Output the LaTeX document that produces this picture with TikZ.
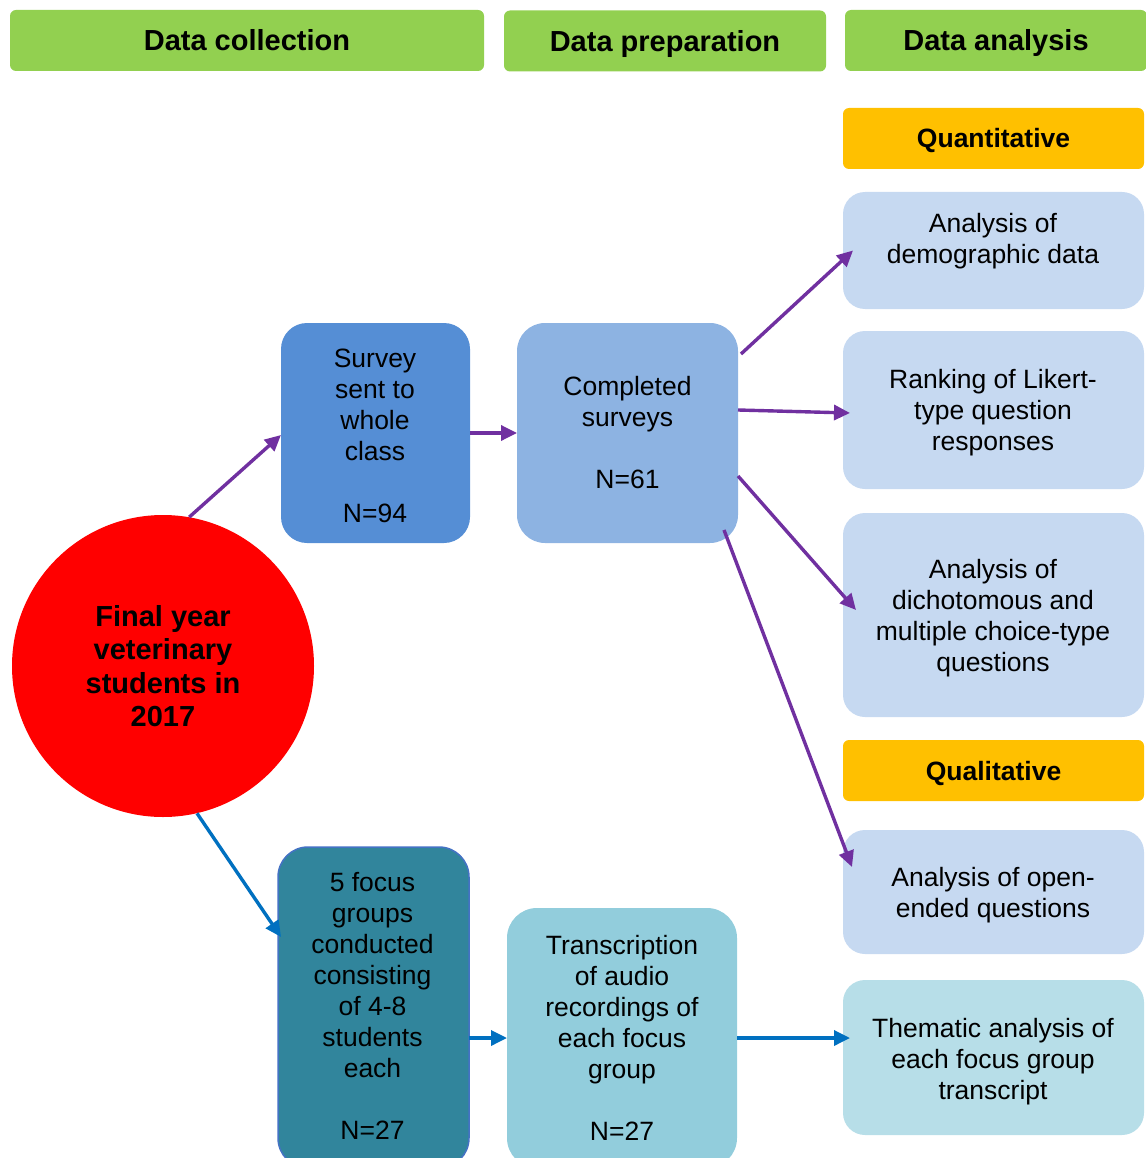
\documentclass[tikz,border=0pt]{standalone}
\usepackage{fontspec}
\setmainfont{Liberation Sans}
\usetikzlibrary{arrows.meta,calc}

\definecolor{hdrgreen}{HTML}{92D050}
\definecolor{catorange}{HTML}{FFC000}
\definecolor{surveyblue}{HTML}{558ED5}
\definecolor{doneblue}{HTML}{8DB3E2}
\definecolor{paleblue}{HTML}{C6D9F1}
\definecolor{focusteal}{HTML}{31859C}
\definecolor{focusedge}{HTML}{4472C4}
\definecolor{transteal}{HTML}{92CDDC}
\definecolor{paleteal}{HTML}{B7DEE8}
\definecolor{arrowpurple}{HTML}{7030A0}
\definecolor{arrowblue}{HTML}{0070C0}

\tikzset{
  bodytext/.style={font=\fontsize{26.5}{31}\selectfont, align=center, text=black},
  box/.style={bodytext, inner sep=0pt, outer sep=0pt, rounded corners=22pt},
  header/.style={box, fill=hdrgreen, rounded corners=6pt, minimum height=61pt,
                 text height=20.8pt, text depth=0pt,
                 font=\fontsize{29}{33}\selectfont\bfseries},
  category/.style={box, fill=catorange, rounded corners=6pt, minimum width=301pt,
                   minimum height=61pt, text height=19pt, text depth=0pt,
                   font=\fontsize{26.5}{31}\selectfont\bfseries},
  resultbox/.style={box, fill=paleblue, minimum width=301pt},
  flowarrow/.style={line width=3.4pt, -{Triangle[length=16pt,width=15pt]}},
  purplearrow/.style={flowarrow, draw=arrowpurple},
  bluearrow/.style={flowarrow, draw=arrowblue}
}

\begin{document}
\begin{tikzpicture}[x=1pt,y=-1pt]
\useasboundingbox (0,0) rectangle (1145,1158);

% column headers
\node[header, minimum width=474pt] (hcol) at (247,40.5) {Data collection};
\node[header, minimum width=322pt] (hprep) at (665,41) {Data preparation};
\node[header, minimum width=302pt] (hana) at (996,40.5) {Data analysis};

% analysis categories
\node[category] (quant) at (993.5,138.5) {Quantitative};
\node[category] (qual) at (993.5,770.5) {Qualitative};

% quantitative analyses
\node[resultbox, minimum height=117pt] (demo) at (993.5,250.5) {};
\node[bodytext] (demotext) at (993,241.5) {Analysis of\\demographic data};
\node[resultbox, minimum height=158pt] (rank) at (993.5,410) {};
\node[bodytext] (ranktext) at (993,413) {Ranking of Likert-\\type question\\responses};
\node[resultbox, minimum height=204pt] (dich) at (993.5,615) {};
\node[bodytext] (dichtext) at (993,618) {Analysis of\\dichotomous and\\multiple choice-type\\questions};

% qualitative analyses
\node[resultbox, minimum height=124pt] (open) at (993.5,892) {};
\node[bodytext] (opentext) at (993,895) {Analysis of open-\\ended questions};
\node[box, fill=paleteal, minimum width=301pt, minimum height=155pt] (them) at (993.5,1057.5) {};
\node[bodytext] (themtext) at (993,1061.5) {Thematic analysis of\\each focus group\\transcript};

% starting population
\node[circle, fill=red, minimum size=302pt, inner sep=0pt,
      font=\fontsize{29}{33.5}\selectfont\bfseries, align=center] (pop) at (163,666)
  {Final year\\veterinary\\students in\\2017};

% survey branch
\node[box, fill=surveyblue, minimum width=189pt, minimum height=220pt, rounded corners=26pt] (survey) at (375.5,433) {};
\node[bodytext] (surveytext) at (375,436) {Survey\\sent to\\whole\\class\\[31pt]N=94};
\node[box, fill=doneblue, minimum width=221pt, minimum height=220pt, rounded corners=28pt] (comp) at (627.5,433)
  {Completed\\surveys\\[31pt]N=61};

% focus group branch
\node[box, fill=focusteal, draw=focusedge, line width=1.5pt, minimum width=191pt,
      minimum height=321pt, rounded corners=30pt] (focus) at (373.5,1007.5) {};
\node[bodytext] (focustext) at (372.5,1006)
  {5 focus\\groups\\conducted\\consisting\\of 4-8\\students\\each\\[31pt]N=27};
\node[box, fill=transteal, minimum width=230pt, minimum height=260pt, rounded corners=30pt] (trans) at (622,1038)
  {Transcription\\of audio\\recordings of\\each focus\\group\\[31pt]N=27};

% connectors
\draw[purplearrow] (pop.80.8) -- ($(survey.west)+(0,2)$);
\draw[purplearrow] (survey.east) -- (comp.west);
\draw[purplearrow] ($(comp.east)+(3,-79)$) -- ($(demo.west)+(10,0)$);
\draw[purplearrow] ($(comp.east)+(0,-23)$) -- ($(rank.west)+(7,3)$);
\draw[purplearrow] ($(comp.east)+(0,43)$) -- ($(dich.west)+(13,-5)$);
\draw[purplearrow] ($(comp.east)+(-14,97)$) -- ($(open.west)+(9,-25)$);

\draw[bluearrow] (pop.-77) -- ($(focus.north west)+(3,90)$);
\draw[bluearrow] (focus.east |- trans.west) -- (trans.west);
\draw[bluearrow] (trans.east) -- ($(trans.east -| them.west)+(7,0)$);
\end{tikzpicture}
\end{document}
